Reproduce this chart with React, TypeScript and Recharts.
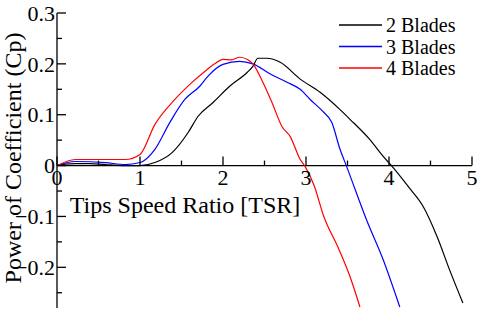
import React from 'react';
import { LineChart, Line, XAxis, YAxis, ReferenceLine } from 'recharts';

// ---- data ----
const seriesNames = ['2 Blades', '3 Blades', '4 Blades'];
const seriesColors = ['#000000', '#0000ff', '#ff0000'];

const tsr2 = [0, 0.1, 0.22, 0.4, 0.58, 0.82, 1.0, 1.18, 1.39, 1.58, 1.7, 1.88, 2.08, 2.29, 2.36, 2.42, 2.53, 2.69, 2.93, 3.17, 3.41, 3.53, 3.77, 3.93, 4.04, 4.25, 4.41, 4.58, 4.73, 4.89];
const cp2 = [0, 0.003, 0.004, 0.004, 0.002, 0.0, 0.0, 0.006, 0.026, 0.065, 0.097, 0.124, 0.156, 0.183, 0.195, 0.211, 0.211, 0.203, 0.17, 0.144, 0.11, 0.091, 0.051, 0.018, -0.002, -0.045, -0.08, -0.14, -0.205, -0.27];

const tsr3 = [0, 0.22, 0.58, 0.82, 1.0, 1.18, 1.36, 1.54, 1.72, 1.82, 2.0, 2.2, 2.36, 2.57, 2.77, 2.93, 3.05, 3.2, 3.31, 3.41, 3.49, 3.73, 3.93, 4.13];
const cp3 = [0, 0.008, 0.006, 0.002, 0.006, 0.032, 0.085, 0.13, 0.156, 0.176, 0.199, 0.205, 0.2, 0.18, 0.164, 0.15, 0.13, 0.107, 0.085, 0.032, -0.002, -0.107, -0.185, -0.278];

const tsr4 = [0, 0.22, 0.58, 0.82, 1.0, 1.18, 1.42, 1.63, 1.78, 1.9, 2.0, 2.1, 2.2, 2.3, 2.36, 2.48, 2.59, 2.71, 2.81, 2.93, 2.99, 3.1, 3.21, 3.39, 3.53, 3.65];
const cp4 = [0, 0.012, 0.012, 0.012, 0.022, 0.081, 0.13, 0.164, 0.185, 0.2, 0.209, 0.208, 0.213, 0.208, 0.2, 0.164, 0.124, 0.077, 0.057, 0.012, -0.002, -0.04, -0.098, -0.162, -0.218, -0.278];

const xTicks = [0, 0.5, 1, 1.5, 2, 2.5, 3, 3.5, 4, 4.5, 5];
const yTicks = [-0.25, -0.2, -0.15, -0.1, -0.05, 0, 0.05, 0.1, 0.15, 0.2, 0.25, 0.3];

const xTitle = 'Tips Speed Ratio [TSR]';
const yTitle = 'Power of Coefficient (Cp)';

const toPoints = (xs: number[], ys: number[]) => xs.map((x, i) => ({ x, y: ys[i] }));
const seriesData = [toPoints(tsr2, cp2), toPoints(tsr3, cp3), toPoints(tsr4, cp4)];

// ---- layout ----
const W = 480;
const H = 312;
const X_AXIS_H = 1;
const M = { top: 13, right: 8, bottom: 3, left: 0 };
const Y_AXIS_W = 57;
const X_MIN = 0;
const X_MAX = 5;
const Y_MIN = -0.28;
const Y_MAX = 0.3;
const PLOT_H = H - M.top - M.bottom - X_AXIS_H;
const ZERO_SHIFT = (PLOT_H * (0 - Y_MIN)) / (Y_MAX - Y_MIN);
const FONT = "'Liberation Serif', 'Times New Roman', serif";

const fmtY = (v: number) => {
  if (Math.abs(v) < 1e-9) return '0';
  return (v < 0 ? '\u2212' : '') + Math.abs(v).toFixed(1);
};

const XTick = (props: any) => {
  const { x, y, payload } = props;
  const v = payload.value as number;
  const major = Math.abs(v - Math.round(v)) < 1e-6;
  const y0 = y - ZERO_SHIFT;
  return (
    <g>
      <line x1={x} x2={x} y1={y0} y2={y0 - (major ? 9 : 5)} stroke="#000" strokeWidth={1.3} />
      {major && (
        <text x={x} y={y0 + 19} textAnchor="middle" fontSize={22} fontFamily={FONT} fill="#000">
          {String(v)}
        </text>
      )}
    </g>
  );
};

const YTick = (props: any) => {
  const { x, y, payload } = props;
  const v = payload.value as number;
  const major = Math.abs(v * 10 - Math.round(v * 10)) < 1e-6;
  return (
    <g>
      <line x1={x} x2={x + (major ? 9 : 5)} y1={y} y2={y} stroke="#000" strokeWidth={1.3} />
      {major && (
        <text x={x - 2} y={y} dy="0.35em" textAnchor="end" fontSize={22} fontFamily={FONT} fill="#000">
          {fmtY(v)}
        </text>
      )}
    </g>
  );
};

const LegendBox = () => (
  <svg width={144} height={70} style={{ position: 'absolute', left: 335, top: 14 }}>
    {seriesNames.map((name, i) => (
      <g key={name}>
        <line x1={4} x2={47} y1={11 + i * 21.5} y2={11 + i * 21.5} stroke={seriesColors[i]} strokeWidth={1.3} />
        <text x={51} y={11 + i * 21.5} dy="0.35em" fontSize={20} fontFamily={FONT} fill="#000">
          {name}
        </text>
      </g>
    ))}
  </svg>
);

export default function App() {
  return (
    <div style={{ position: 'absolute', left: 0, top: 0, width: W, height: H, background: '#fff' }}>
      <LineChart width={W} height={H} margin={M}>
        <XAxis
          type="number"
          dataKey="x"
          domain={[X_MIN, X_MAX]}
          ticks={xTicks}
          interval={0}
          height={X_AXIS_H}
          axisLine={false}
          tickLine={false}
          tickSize={0}
          tickMargin={0}
          tick={<XTick />}
          allowDataOverflow
          label={{
            content: () => (
              <text x={185} y={213} textAnchor="middle" fontSize={24} fontFamily={FONT} fill="#000">
                {xTitle}
              </text>
            ),
          }}
        />
        <YAxis
          type="number"
          domain={[Y_MIN, Y_MAX]}
          ticks={yTicks}
          interval={0}
          width={Y_AXIS_W}
          axisLine={{ stroke: '#000', strokeWidth: 1.3 }}
          tickLine={false}
          tickSize={0}
          tickMargin={0}
          tick={<YTick />}
          allowDataOverflow
          label={{
            content: () => (
              <text
                transform="translate(21,158) rotate(-90)"
                textAnchor="middle"
                fontSize={24}
                fontFamily={FONT}
                fill="#000"
              >
                {yTitle}
              </text>
            ),
          }}
        />
        <ReferenceLine y={0} stroke="#000" strokeWidth={1.3} />
        {seriesData.map((d, i) => (
          <Line
            key={seriesNames[i]}
            data={d}
            dataKey="y"
            name={seriesNames[i]}
            type="monotone"
            stroke={seriesColors[i]}
            strokeWidth={1.2}
            dot={false}
            activeDot={false}
            isAnimationActive={false}
          />
        ))}
      </LineChart>
      <LegendBox />
    </div>
  );
}
